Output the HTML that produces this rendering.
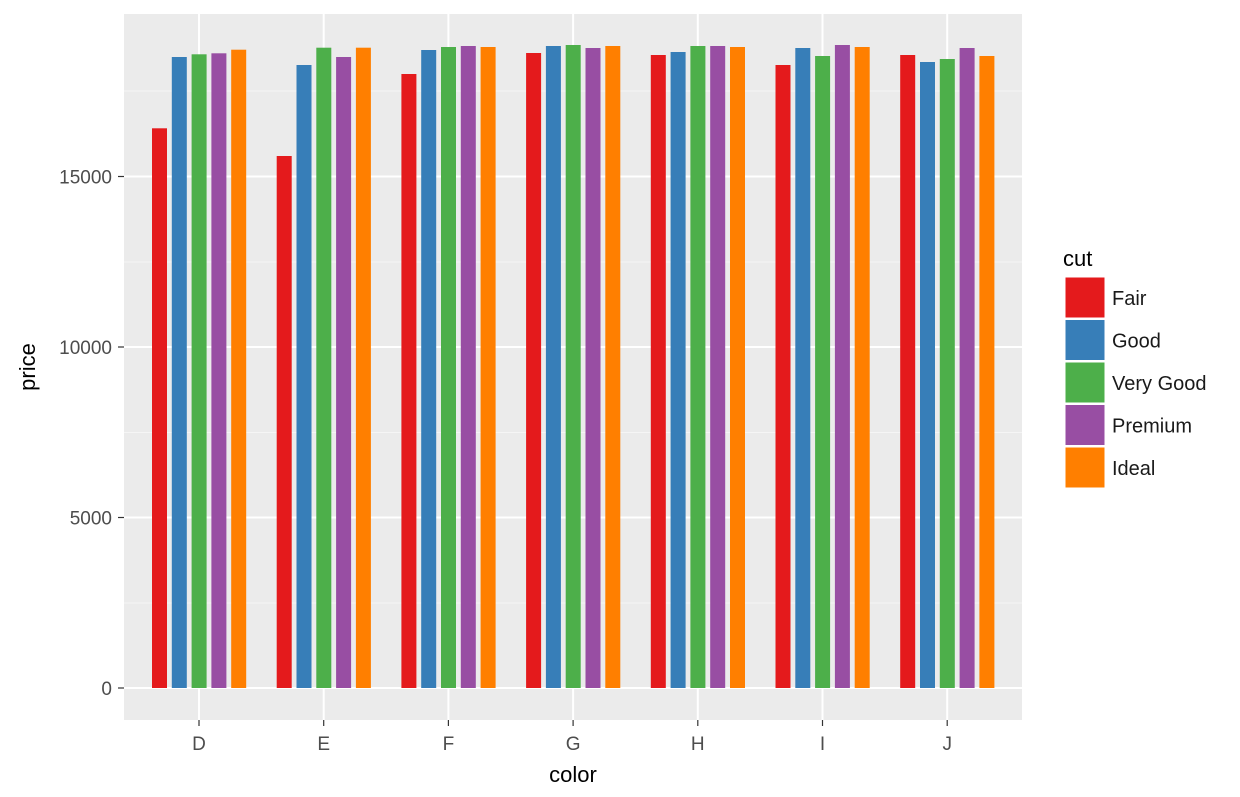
<!DOCTYPE html>
<html><head><meta charset="utf-8"><style>body{margin:0;background:#fff}svg{display:block}text{font-family:"Liberation Sans",Arial,sans-serif}</style></head>
<body>
<svg width="1240" height="797" xmlns="http://www.w3.org/2000/svg">
<rect x="124" y="14" width="898" height="706" fill="#ebebeb"/>
<g stroke="#f5f5f5" stroke-width="1">
<line x1="124" x2="1022" y1="91" y2="91"/><line x1="124" x2="1022" y1="262" y2="262"/><line x1="124" x2="1022" y1="432.5" y2="432.5"/><line x1="124" x2="1022" y1="603" y2="603"/>
</g>
<g stroke="#fff" stroke-width="2">
<line x1="124" x2="1022" y1="176.5" y2="176.5"/><line x1="124" x2="1022" y1="347" y2="347"/><line x1="124" x2="1022" y1="517.5" y2="517.5"/><line x1="124" x2="1022" y1="688" y2="688"/>
<line y1="14" y2="720" x1="199" x2="199"/><line y1="14" y2="720" x1="323.7" x2="323.7"/><line y1="14" y2="720" x1="448.4" x2="448.4"/><line y1="14" y2="720" x1="573.1" x2="573.1"/><line y1="14" y2="720" x1="697.8" x2="697.8"/><line y1="14" y2="720" x1="822.5" x2="822.5"/><line y1="14" y2="720" x1="947.2" x2="947.2"/>
</g>
<g>
<rect x="152" y="128.3" width="15" height="559.7" fill="#e41a1c"/>
<rect x="171.8" y="57" width="15" height="631" fill="#377eb8"/>
<rect x="191.6" y="54.3" width="15" height="633.7" fill="#4daf4a"/>
<rect x="211.4" y="53.3" width="15" height="634.7" fill="#984ea3"/>
<rect x="231.2" y="49.7" width="15" height="638.3" fill="#ff7f00"/>

<rect x="276.7" y="156" width="15" height="532" fill="#e41a1c"/>
<rect x="296.5" y="65" width="15" height="623" fill="#377eb8"/>
<rect x="316.3" y="47.7" width="15" height="640.3" fill="#4daf4a"/>
<rect x="336.1" y="57" width="15" height="631" fill="#984ea3"/>
<rect x="355.9" y="47.7" width="15" height="640.3" fill="#ff7f00"/>

<rect x="401.4" y="74" width="15" height="614" fill="#e41a1c"/>
<rect x="421.2" y="50" width="15" height="638" fill="#377eb8"/>
<rect x="441" y="47" width="15" height="641" fill="#4daf4a"/>
<rect x="460.8" y="46" width="15" height="642" fill="#984ea3"/>
<rect x="480.6" y="47" width="15" height="641" fill="#ff7f00"/>

<rect x="526.1" y="53" width="15" height="635" fill="#e41a1c"/>
<rect x="545.9" y="46" width="15" height="642" fill="#377eb8"/>
<rect x="565.7" y="45" width="15" height="643" fill="#4daf4a"/>
<rect x="585.5" y="48" width="15" height="640" fill="#984ea3"/>
<rect x="605.3" y="46" width="15" height="642" fill="#ff7f00"/>

<rect x="650.8" y="55" width="15" height="633" fill="#e41a1c"/>
<rect x="670.6" y="52" width="15" height="636" fill="#377eb8"/>
<rect x="690.4" y="46" width="15" height="642" fill="#4daf4a"/>
<rect x="710.2" y="46" width="15" height="642" fill="#984ea3"/>
<rect x="730" y="47" width="15" height="641" fill="#ff7f00"/>

<rect x="775.5" y="65" width="15" height="623" fill="#e41a1c"/>
<rect x="795.3" y="48" width="15" height="640" fill="#377eb8"/>
<rect x="815.1" y="56" width="15" height="632" fill="#4daf4a"/>
<rect x="834.9" y="45" width="15" height="643" fill="#984ea3"/>
<rect x="854.7" y="47" width="15" height="641" fill="#ff7f00"/>

<rect x="900.2" y="55" width="15" height="633" fill="#e41a1c"/>
<rect x="920" y="62" width="15" height="626" fill="#377eb8"/>
<rect x="939.8" y="59" width="15" height="629" fill="#4daf4a"/>
<rect x="959.6" y="48" width="15" height="640" fill="#984ea3"/>
<rect x="979.4" y="56" width="15" height="632" fill="#ff7f00"/>
</g>
<g fill="#4d4d4d" font-size="19" text-anchor="end">
<text x="112" y="183.5">15000</text><text x="112" y="354">10000</text><text x="112" y="524.5">5000</text><text x="112" y="695">0</text>
</g>
<g stroke="#333" stroke-width="1.2">
<line x1="118" x2="124" y1="176.5" y2="176.5"/><line x1="118" x2="124" y1="347" y2="347"/><line x1="118" x2="124" y1="517.5" y2="517.5"/><line x1="118" x2="124" y1="688" y2="688"/>
<line y1="720" y2="726" x1="199" x2="199"/><line y1="720" y2="726" x1="323.7" x2="323.7"/><line y1="720" y2="726" x1="448.4" x2="448.4"/><line y1="720" y2="726" x1="573.1" x2="573.1"/><line y1="720" y2="726" x1="697.8" x2="697.8"/><line y1="720" y2="726" x1="822.5" x2="822.5"/><line y1="720" y2="726" x1="947.2" x2="947.2"/>
</g>
<g fill="#4d4d4d" font-size="19" text-anchor="middle">
<text x="199" y="750">D</text><text x="323.7" y="750">E</text><text x="448.4" y="750">F</text><text x="573.1" y="750">G</text><text x="697.8" y="750">H</text><text x="822.5" y="750">I</text><text x="947.2" y="750">J</text>
</g>
<text x="573" y="782" font-size="22" text-anchor="middle">color</text>
<text transform="translate(35,367) rotate(-90)" font-size="22" text-anchor="middle">price</text>
<text x="1063" y="266" font-size="22">cut</text>
<g stroke="#fff" stroke-width="1">
<rect x="1065" y="277" width="40" height="41" fill="#e41a1c"/>
<rect x="1065" y="319.5" width="40" height="41" fill="#377eb8"/>
<rect x="1065" y="362" width="40" height="41" fill="#4daf4a"/>
<rect x="1065" y="404.5" width="40" height="41" fill="#984ea3"/>
<rect x="1065" y="447" width="40" height="41" fill="#ff7f00"/>
</g>
<g font-size="20" fill="#1a1a1a">
<text x="1112" y="305">Fair</text><text x="1112" y="347.5">Good</text><text x="1112" y="390">Very Good</text><text x="1112" y="432.5">Premium</text><text x="1112" y="475">Ideal</text>
</g>
</svg>
</body></html>
